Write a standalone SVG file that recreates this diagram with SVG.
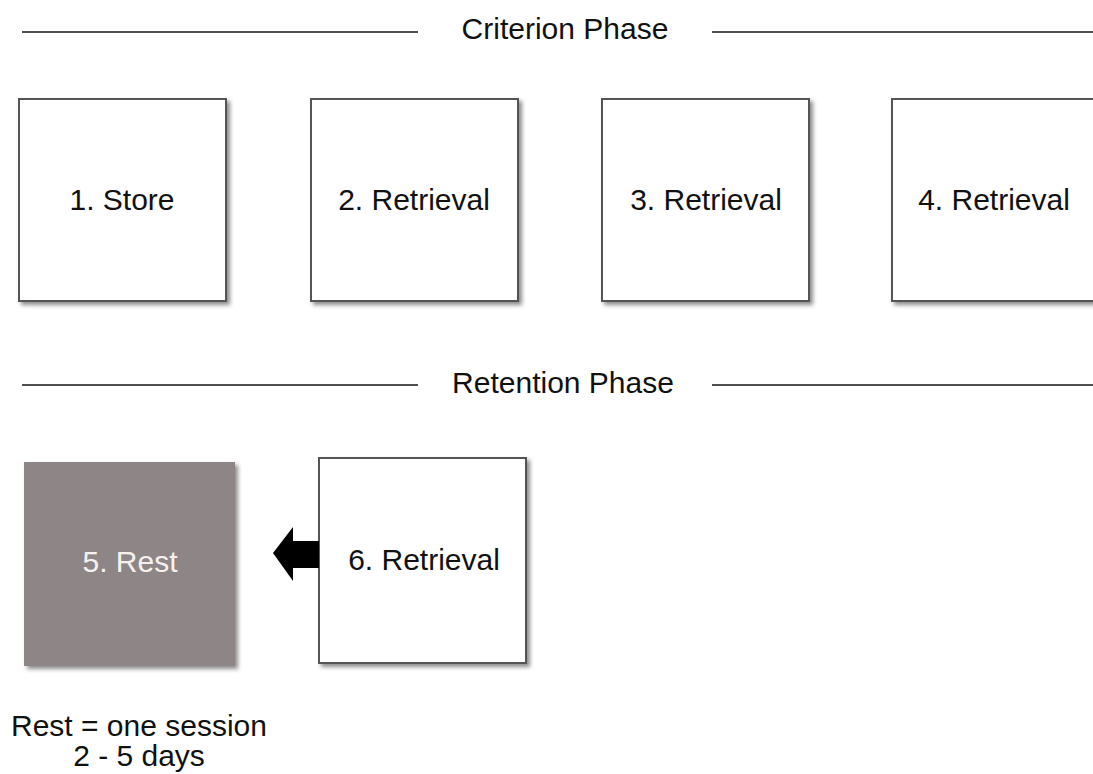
<svg xmlns="http://www.w3.org/2000/svg" width="1093" height="774" viewBox="0 0 1093 774">
  <style>
    .rule { stroke: #4f4f4f; stroke-width: 2; fill: none; }
    .box { fill: #ffffff; stroke: #555555; stroke-width: 2; filter: url(#shadow); }
    .rest { fill: #8e8686; stroke: none; filter: url(#shadow); }
    .label { font-family: "Liberation Sans", Arial, sans-serif; font-size: 30px; fill: #111111; text-anchor: middle; }
    .light { fill: #f6f1ef; }
  </style>
  <defs>
    <filter id="shadow" x="-10%" y="-10%" width="125%" height="125%">
      <feDropShadow dx="3" dy="3" stdDeviation="2" flood-color="#000" flood-opacity="0.45"/>
    </filter>
  </defs>
  <rect width="1093" height="774" fill="#ffffff"/>

  <!-- phase headings -->
  <g id="criterion-phase">
    <line class="rule" x1="22" y1="32" x2="418" y2="32"/>
    <line class="rule" x1="712" y1="32" x2="1093" y2="32"/>
    <text class="label" x="565" y="39">Criterion Phase</text>
  </g>
  <g id="retention-phase">
    <line class="rule" x1="22" y1="385" x2="418" y2="385"/>
    <line class="rule" x1="712" y1="385" x2="1093" y2="385"/>
    <text class="label" x="563" y="393">Retention Phase</text>
  </g>

  <!-- criterion steps -->
  <g id="node-store">
    <rect class="box" x="19" y="99" width="207" height="202"/>
    <text class="label" x="122" y="210">1. Store</text>
  </g>
  <g id="node-retrieval-2">
    <rect class="box" x="311" y="99" width="207" height="202"/>
    <text class="label" x="414" y="210">2. Retrieval</text>
  </g>
  <g id="node-retrieval-3">
    <rect class="box" x="602" y="99" width="207" height="202"/>
    <text class="label" x="706" y="210">3. Retrieval</text>
  </g>
  <g id="node-retrieval-4">
    <rect class="box" x="892" y="99" width="210" height="202"/>
    <text class="label" x="994" y="210">4. Retrieval</text>
  </g>

  <!-- retention steps -->
  <g id="node-rest">
    <rect class="rest" x="24" y="462" width="211" height="204"/>
    <text class="label light" x="130" y="572">5. Rest</text>
  </g>
  <g id="node-retrieval-6">
    <rect class="box" x="319" y="458" width="207" height="205"/>
    <text class="label" x="424" y="570">6. Retrieval</text>
  </g>

  <!-- connectors -->
  <g id="connectors">
    <polygon points="319,541 293,541 293,527 273,553 293,581 293,568 319,568" fill="#000000"/>
  </g>

  <!-- note -->
  <g id="note">
    <text class="label" x="139" y="736">Rest = one session</text>
    <text class="label" x="139" y="766">2 - 5 days</text>
  </g>
</svg>
